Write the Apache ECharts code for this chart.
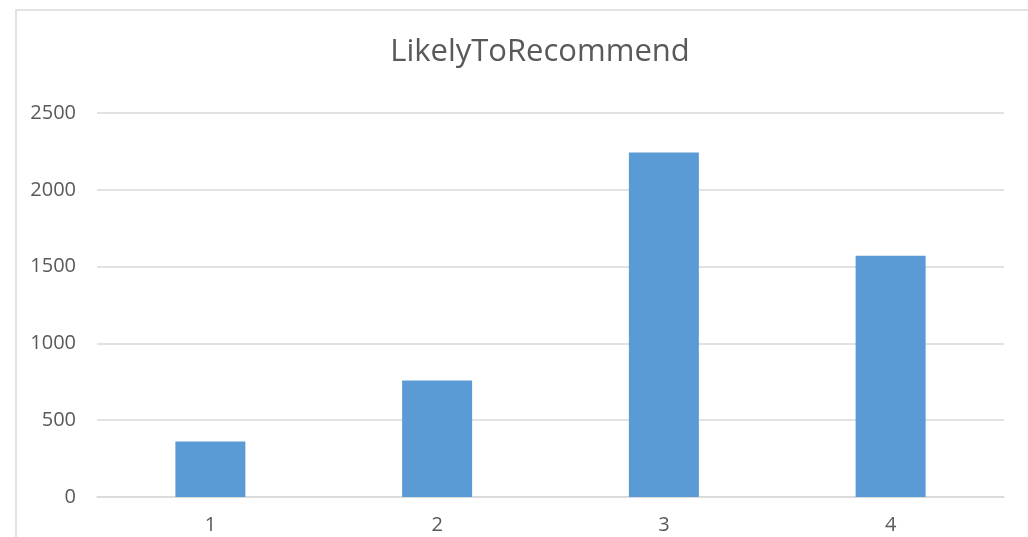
<!DOCTYPE html>
<html>
<head>
<meta charset="utf-8">
<style>
  html, body { margin: 0; padding: 0; background: #ffffff; }
  #chart { width: 1028px; height: 537px; }
</style>
<script src="https://cdn.jsdelivr.net/npm/echarts@6/dist/echarts.min.js"></script>
</head>
<body>
<div id="chart"></div>
<script>
// Response counts per rating
const categories = ['1', '2', '3', '4'];
const counts = [362, 759, 2243, 1571];
const yTicks = { min: 0, max: 2500, interval: 500 };

const chart = echarts.init(document.getElementById('chart'));
const textColor = '#595959';
const gridColor = '#d9d9d9';
const font = 'Open Sans';

chart.setOption({
  animation: false,
  backgroundColor: '#ffffff',
  graphic: [{
    type: 'rect',
    shape: { x: 16, y: 10, width: 1200, height: 700 },
    style: { fill: 'none', stroke: gridColor, lineWidth: 1.5 },
    silent: true,
    z: -1
  }],
  title: {
    text: 'LikelyToRecommend',
    left: 535,
    top: 32,
    textAlign: 'center',
    textStyle: { fontFamily: font, fontSize: 31, fontWeight: 'normal', color: textColor }
  },
  grid: { left: 97, right: 24, top: 113, height: 384 },
  xAxis: {
    type: 'category',
    data: categories,
    axisLine: { show: true, lineStyle: { color: gridColor, width: 1.5 } },
    axisTick: { show: false },
    axisLabel: { color: textColor, fontFamily: font, fontSize: 20, margin: 18 }
  },
  yAxis: {
    type: 'value',
    min: yTicks.min,
    max: yTicks.max,
    interval: yTicks.interval,
    axisLine: { show: false },
    axisTick: { show: false },
    splitLine: { lineStyle: { color: gridColor, width: 1.5 } },
    axisLabel: {
      color: textColor, fontFamily: font, fontSize: 20, margin: 21,
      formatter: (v) => String(v)
    }
  },
  series: [{
    type: 'bar',
    data: counts,
    barWidth: 70,
    itemStyle: { color: '#5b9bd5' }
  }]
});
</script>
</body>
</html>
